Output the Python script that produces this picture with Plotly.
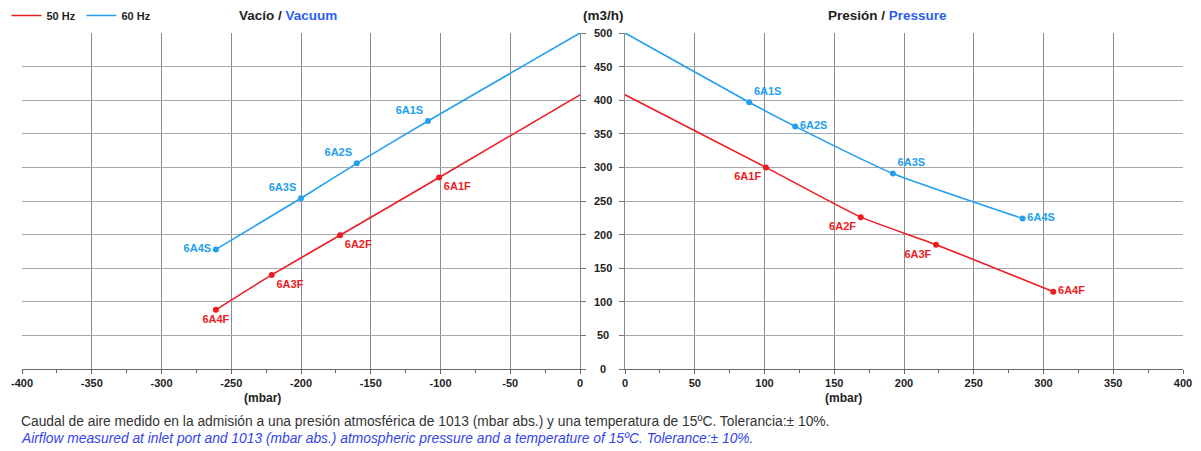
import plotly.graph_objects as go

# Airflow curves (m3/h) versus vacuum / pressure (mbar)
vac_50_x = [-261, -221, -172, -101, 0]
vac_50_y = [88, 140, 199, 285, 408]
vac_50_lbl = ["6A4F", "6A3F", "6A2F", "6A1F", ""]

vac_60_x = [-261, -200, -160, -109, 0]
vac_60_y = [178, 254, 306, 369, 500]
vac_60_lbl = ["6A4S", "6A3S", "6A2S", "6A1S", ""]

prs_50_x = [0, 101, 169, 223, 307]
prs_50_y = [408, 300, 226, 185, 115]
prs_50_lbl = ["", "6A1F", "6A2F", "6A3F", "6A4F"]

prs_60_x = [0, 89, 122, 192, 285]
prs_60_y = [500, 397, 361, 291, 224]
prs_60_lbl = ["", "6A1S", "6A2S", "6A3S", "6A4S"]

y_ticks = list(range(0, 501, 50))
vac_ticks = list(range(-400, 1, 50))
prs_ticks = list(range(0, 401, 50))

RED = "#ec1c24"
BLUE = "#22a0ee"
TITLE_BLUE = "#2c5ef0"
TXT = "#222222"
FONT = "Liberation Sans"

W, H = 1201, 451
ML, MR, MT, MB = 22, 18, 33, 82
PW = W - ML - MR


def px(xpix):
    return (xpix - ML) / PW


fig = go.Figure()


def curve(x, y, lbl, color, name, xa, ya, pos, legend):
    fig.add_trace(go.Scatter(
        x=x, y=y, mode="lines", name=name, showlegend=legend,
        line=dict(color=color, width=1.6, shape="spline", smoothing=0.5),
        xaxis=xa, yaxis=ya, hoverinfo="skip"))
    idx = [i for i, t in enumerate(lbl) if t]
    fig.add_trace(go.Scatter(
        x=[x[i] for i in idx], y=[y[i] for i in idx],
        text=[f"<b>{lbl[i]}</b>" for i in idx], mode="markers+text",
        textposition=[pos[i] for i in idx], showlegend=False,
        marker=dict(color=color, size=6),
        textfont=dict(color=color, size=11, family=FONT),
        xaxis=xa, yaxis=ya))


curve(vac_50_x, vac_50_y, vac_50_lbl, RED, "<b>50 Hz</b>", "x", "y",
      ["bottom center", "bottom right", "bottom right", "bottom right", ""], True)
curve(vac_60_x, vac_60_y, vac_60_lbl, BLUE, "<b>60 Hz</b>", "x", "y",
      ["middle left", "top left", "top left", "top left", ""], True)
curve(prs_50_x, prs_50_y, prs_50_lbl, RED, "50 Hz", "x2", "y2",
      ["", "bottom left", "bottom left", "bottom left", "middle right"], False)
curve(prs_60_x, prs_60_y, prs_60_lbl, BLUE, "60 Hz", "x2", "y2",
      ["", "top right", "middle right", "top right", "middle right"], False)

tickfont = dict(size=11, family=FONT, color=TXT)
xcommon = dict(
    showgrid=True, gridcolor="#8a8a8a", gridwidth=1, zeroline=False,
    showline=True, linecolor="#666666", linewidth=1,
    ticks="outside", ticklen=4, tickcolor="#666666",
    minor=dict(dtick=25, ticks="outside", ticklen=3, tickcolor="#666666", showgrid=False),
    tickfont=tickfont, fixedrange=True)
ycommon = dict(
    range=[0, 500], tickvals=y_ticks, showgrid=True, gridcolor="#a8a8a8",
    gridwidth=1, zeroline=False, showline=True, linecolor="#8a8a8a",
    ticks="outside", ticklen=5, tickcolor="#777777", showticklabels=False,
    fixedrange=True)

fig.update_layout(
    width=W, height=H,
    margin=dict(l=ML, r=MR, t=MT, b=MB, autoexpand=False),
    paper_bgcolor="white", plot_bgcolor="white",
    font=dict(family=FONT, color=TXT),
    xaxis=dict(xcommon, domain=[0, px(580)], range=[-400, 0], tickvals=vac_ticks,
               ticktext=[f"<b>{v}</b>" for v in vac_ticks], anchor="y"),
    yaxis=dict(ycommon, side="right", anchor="x"),
    xaxis2=dict(xcommon, domain=[px(625), 1], range=[0, 400], tickvals=prs_ticks,
                ticktext=[f"<b>{v}</b>" for v in prs_ticks], anchor="y2"),
    yaxis2=dict(ycommon, side="left", anchor="x2"),
    legend=dict(orientation="h", x=-0.0134, y=1.009, yanchor="bottom", xanchor="left",
                font=dict(size=11, family=FONT, color=TXT),
                itemwidth=30, entrywidth=30, entrywidthmode="pixels",
                bgcolor="rgba(0,0,0,0)"),
    showlegend=True,
)

# shared y tick labels between the two panels
for v in y_ticks:
    fig.add_annotation(x=px(603), xref="paper", y=v, yref="y", text=f"<b>{v}</b>",
                       showarrow=False, xanchor="center", yanchor="middle",
                       font=dict(size=11, family=FONT, color=TXT))

fig.add_annotation(x=px(603), xref="paper", y=1, yref="paper", yshift=18,
                   text="<b>(m3/h)</b>", showarrow=False, xanchor="center",
                   yanchor="middle", font=dict(size=13.5, family=FONT, color=TXT))
fig.add_annotation(x=px(288), xref="paper", y=1, yref="paper", yshift=18,
                   text=f"<b>Vacío / <span style='color:{TITLE_BLUE}'>Vacuum</span></b>",
                   showarrow=False, xanchor="center", yanchor="middle",
                   font=dict(size=13.5, family=FONT, color=TXT))
fig.add_annotation(x=px(887), xref="paper", y=1, yref="paper", yshift=18,
                   text=f"<b>Presión / <span style='color:{TITLE_BLUE}'>Pressure</span></b>",
                   showarrow=False, xanchor="center", yanchor="middle",
                   font=dict(size=13.5, family=FONT, color=TXT))

for xc in (262, 843):
    fig.add_annotation(x=px(xc), xref="paper", y=0, yref="paper", yshift=-29,
                       text="<b>(mbar)</b>", showarrow=False, xanchor="center",
                       yanchor="middle", font=dict(size=12, family=FONT, color=TXT))

fig.add_annotation(
    x=px(19), xref="paper", y=0, yref="paper", yshift=-52, xanchor="left",
    yanchor="middle", showarrow=False,
    text="Caudal de aire medido en la admisión a una presión atmosférica de 1013 (mbar abs.) "
         "y una temperatura de 15ºC. Tolerancia:± 10%.",
    font=dict(size=13.8, family=FONT, color="#333333"))
fig.add_annotation(
    x=px(19), xref="paper", y=0, yref="paper", yshift=-69, xanchor="left",
    yanchor="middle", showarrow=False,
    text="<i>Airflow measured at inlet port and 1013 (mbar abs.) atmospheric pressure "
         "and a temperature of 15ºC. Tolerance:± 10%.</i>",
    font=dict(size=13.8, family=FONT, color="#3344e8"))

fig.write_html("out.html")
